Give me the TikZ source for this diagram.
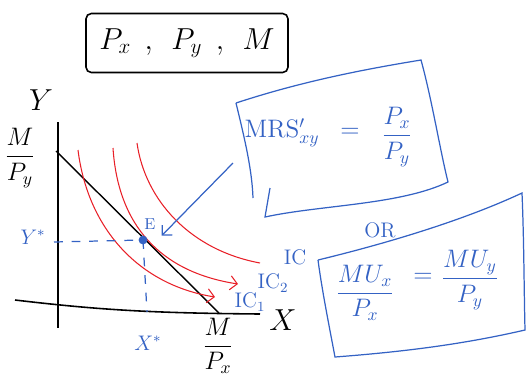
\documentclass[tikz,border=0pt]{standalone}
\usepackage{amsmath}
\usepackage{tikz}
\usetikzlibrary{arrows.meta, positioning, calc}
\definecolor{penblue}{RGB}{52,98,196}
\definecolor{penred}{RGB}{232,32,40}

\begin{document}
\begin{tikzpicture}[x=0.02cm, y=-0.02cm,
  topbox/.style={draw, line width=0.9pt, rounded corners=3pt, minimum width=4.04cm, minimum height=1.18cm, font=\LARGE},
  axis/.style={line width=0.9pt, black},
  budget/.style={line width=0.8pt, black},
  icurve/.style={line width=0.6pt, penred},
  bluepen/.style={line width=0.7pt, penblue},
  guide/.style={line width=0.7pt, penblue, dash pattern=on 5pt off 5pt},
  bluetext/.style={text=penblue, font=\large},
  hook/.style={-{Straight Barb[length=4pt]}},
  dot/.style={circle, fill=penblue, inner sep=0pt, minimum size=5pt}
]
\useasboundingbox (0,0) rectangle (527,380);

% givens
\node[topbox] (prices) at (187,43) {$P_x\;\,,\;\,P_y\;\,,\;\,M$};

% axes
\draw[axis] (58,122) -- (58,328);
\draw[axis] (15,300) .. controls (100,310) and (150,313) .. (260,314);
\node[font=\LARGE] (ylab) at (41,100) {$Y$};
\node[font=\LARGE] (xlab) at (283,320) {$X$};
\node[font=\Large] (myint) at (20,158) {$\dfrac{M}{P_y}$};
\node[font=\Large] (mxint) at (218,346) {$\dfrac{M}{P_x}$};

% budget line and indifference curves
\draw[budget] (56,151) -- (219,313);
\draw[icurve, hook] (78,150) .. controls (88,230) and (140,285) .. (215,297);
\draw[icurve, hook] (113,148) .. controls (118,225) and (160,272) .. (238,284);
\draw[icurve] (137,143) .. controls (145,200) and (190,250) .. (260,263);
\node[bluetext] (ic3) at (295,257) {IC};
\node[bluetext] (ic2) at (273,283) {IC$_2$};
\node[bluetext] (ic1) at (250,302) {IC$_1$};

% equilibrium
\node[dot] (E) at (143,240) {};
\node[bluetext, font=\small] (Elab) at (150,224) {E};
\coordinate (ystar) at (54,242);
\coordinate (xstar) at (147,312);
\draw[guide] (ystar) -- (E.center);
\draw[guide] (E.center) -- (xstar);
\node[bluetext] (ystarlab) at (33,237) {$Y^{*}$};
\node[bluetext] (xstarlab) at (148,343) {$X^{*}$};

% MRS condition
\draw[bluepen] (236,103) .. controls (300,82) and (360,70) .. (421,60)
  .. controls (432,100) and (440,150) .. (448,182)
  .. controls (400,205) and (320,205) .. (265,217) -- (270,188);
\draw[bluepen] (236,103) .. controls (245,140) and (252,170) .. (253,198);
\node[bluetext, font=\Large] (mrs) at (282,133) {MRS$'_{xy}$};
\node[bluetext, font=\Large] (mrseq) at (350,133) {$=$};
\node[bluetext, font=\Large] (mrsfrac) at (397,137) {$\dfrac{P_x}{P_y}$};
\coordinate (mrsfoot) at (233,163);
\draw[bluepen, hook] (mrsfoot) -- (Elab.south east);

% MU condition
\node[bluetext] (orlab) at (380,230) {OR};
\draw[bluepen] (318,260) .. controls (380,245) and (460,222) .. (522,193)
  .. controls (524,240) and (524,290) .. (525,330)
  .. controls (460,345) and (400,352) .. (335,357)
  .. controls (328,320) and (322,290) .. (318,260);
\node[bluetext, font=\Large] (mufracx) at (365,293) {$\dfrac{MU_x}{P_x}$};
\node[bluetext, font=\Large] (mueq) at (423,278) {$=$};
\node[bluetext, font=\Large] (mufracy) at (470,280) {$\dfrac{MU_y}{P_y}$};
\end{tikzpicture}
\end{document}
